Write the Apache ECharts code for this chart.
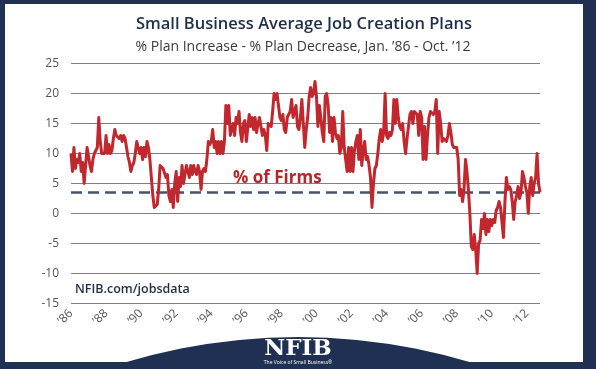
<!DOCTYPE html>
<html>
<head>
<meta charset="utf-8">
<script src="https://cdn.jsdelivr.net/npm/echarts@6/dist/echarts.min.js"></script>
<style>
  html, body { margin: 0; padding: 0; background: #1f3052; }
  #frame { position: absolute; left: 5px; top: 4px; width: 578px; height: 358px; background: #ffffff; }
  #chart { position: absolute; left: 0; top: 0; width: 596px; height: 369px; }
</style>
</head>
<body>
<div id="frame"></div>
<div id="chart"></div>
<script>
// ---- Data (monthly, Jan 1986 - Oct 2012) ----
const startYear = 1986;
const monthCount = 322;
const netPlans = [
  // 1986
  10, 7, 11, 7.5, 9, 8.5, 10, 7, 8.5, 5, 8, 11,
  // 1987
  9.5, 8, 7, 9, 10, 10.5, 11, 16, 12, 10, 10, 10,
  // 1988
  13, 10, 11.5, 10, 10.5, 12.5, 14, 13, 13, 12.5, 13, 12,
  // 1989
  13, 12.5, 11, 9.5, 8.5, 7, 8, 8.5, 10, 12, 11, 10,
  // 1990
  11, 9, 11, 9.5, 12, 11, 9, 6, 3, 1, 1, 1.5,
  // 1991
  4, 8, 8, 7.5, 7.5, 6, 6.5, 3, 2, 4, 1, 5,
  // 1992
  7, 2, 6, 4.5, 8, 5, 6.5, 8, 7, 6, 8, 6.5,
  // 1993
  8, 7, 6.5, 8, 7, 4, 7, 7.5, 7, 9, 12, 11.5,
  // 1994
  12, 14, 11, 12, 10, 12, 10, 12, 10, 12, 18, 15,
  // 1995
  18, 13, 14, 15, 13, 16, 15, 17, 13.5, 12, 15, 15.5,
  // 1996
  12, 12, 16.5, 14.5, 16, 14, 16, 13.5, 15, 16, 14.5, 13,
  // 1997
  14, 13, 10.5, 15, 15, 14.5, 17, 20, 19, 20, 18, 16,
  // 1998
  15.5, 16.5, 14, 13.5, 16, 16.5, 17, 19, 16, 17, 18, 14.5,
  // 1999
  14, 16, 19, 19, 11, 14, 16, 19.5, 21, 19.5, 20, 22,
  // 2000
  19.5, 14.5, 18, 16, 13.5, 12, 19.5, 20, 18, 13.5, 16, 12,
  // 2001
  16, 13.5, 12.5, 13, 10, 11, 17, 11, 9, 7, 11, 7,
  // 2002
  11, 7, 10.5, 12, 13, 9, 14, 8, 10.5, 12, 9, 9.5,
  // 2003
  8, 6, 1, 5, 7.5, 8, 10, 12.5, 14, 12, 13.5, 20,
  // 2004
  13, 12.5, 13.5, 13, 14, 19, 15, 19, 16, 14.5, 14, 15,
  // 2005
  12, 10, 12.5, 14.5, 16.5, 17, 15, 17, 17, 16.5, 13, 17,
  // 2006
  16, 9, 14.5, 9, 13, 16, 17, 17, 16.5, 17, 19, 10,
  // 2007
  17, 15, 12, 12.5, 12.5, 12, 13, 15, 13.5, 11.5, 11, 11,
  // 2008
  11, 9, 3, 4, 2, 4, 9, 7, 4, 0, -5.5, -6,
  // 2009
  -3.5, -6, -10, -5, -4.5, -1, -2.5, 0, -3.5, -1, -3, -1,
  // 2010
  -2, -1, -1.5, 0.5, 1, 2, 1, 1, -4, 2, 6, 4,
  // 2011
  4.5, 4, 2, -1, 2, 3, 4.5, 2.5, 3.5, 7, 6, 4.5,
  // 2012 (Jan - Oct)
  3.5, 0, 4.5, 6, 3, 5, 6, 10, 5, 3.5
];
const averageLevel = 3.6;
const yTicks = { min: -15, max: 25, step: 5 };
const titleText = 'Small Business Average Job Creation Plans';
const subtitleText = '% Plan Increase - % Plan Decrease, Jan. \u201986 - Oct. \u201912';
const averageLabel = '% of Firms';
const sourceText = 'NFIB.com/jobsdata';

// month categories built from the start year
const months = [];
for (let i = 0; i < monthCount; i++) {
  const y = startYear + Math.floor(i / 12);
  const m = (i % 12) + 1;
  months.push(y + '-' + (m < 10 ? '0' + m : m));
}

const navy = '#1f3052';
const red = '#c1272d';

const chart = echarts.init(document.getElementById('chart'), null, { renderer: 'canvas' });
chart.setOption({
  backgroundColor: 'transparent',
  animation: false,
  title: [
    {
      text: titleText,
      left: 299, top: 11, textAlign: 'center',
      textStyle: { fontFamily: 'Open Sans', fontWeight: 600, fontSize: 16.5, color: '#1f2d4a' }
    },
    {
      text: subtitleText,
      left: 298, top: 35, textAlign: 'center',
      textStyle: { fontFamily: 'Open Sans', fontWeight: 'normal', fontSize: 14, color: '#3a3a3a' }
    }
  ],
  grid: { left: 71, right: 56, top: 63.5, bottom: 65.5, containLabel: false },
  xAxis: {
    type: 'category',
    data: months,
    boundaryGap: false,
    axisLine: { show: false },
    axisTick: { show: false },
    splitLine: { show: false },
    axisLabel: {
      rotate: 45,
      margin: 8,
      color: '#555555',
      fontFamily: 'Open Sans',
      fontSize: 12,
      interval: function (idx) { return idx % 24 === 0; },
      formatter: function (v) { return '\u2019' + v.slice(2, 4); }
    }
  },
  yAxis: {
    type: 'value',
    min: yTicks.min, max: yTicks.max, interval: yTicks.step,
    axisLine: { show: false },
    axisTick: { show: false },
    splitLine: { show: true, lineStyle: { color: '#808080', width: 1 } },
    axisLabel: { color: '#555555', fontFamily: 'Open Sans', fontSize: 12, margin: 12 }
  },
  series: [{
    type: 'line',
    data: netPlans,
    showSymbol: false,
    symbol: 'none',
    lineStyle: { color: red, width: 3, join: 'round' },
    z: 3,
    markLine: {
      silent: true,
      symbol: 'none',
      label: { show: false },
      lineStyle: { color: '#44546a', width: 2.5, type: [11, 6] },
      data: [{ yAxis: averageLevel }],
      z: 2
    }
  }],
  graphic: [
    {
      type: 'text', left: 233, top: 170, z: 10,
      style: { text: averageLabel, fill: '#b5262b', font: 'bold 17px "Open Sans"' }
    },
    {
      type: 'text', left: 75, top: 283, z: 10,
      style: { text: sourceText, fill: '#1f2d4a', font: '600 12.5px "Open Sans"' }
    },
    {
      type: 'circle', z: 10,
      shape: { cx: 298, cy: 937, r: 600 },
      style: { fill: navy }
    },
    {
      type: 'rect', z: 10,
      shape: { x: 0, y: 362, width: 596, height: 7 },
      style: { fill: navy }
    },
    {
      type: 'text', z: 11, x: 298, y: 338,
      style: { text: 'NFIB', fill: '#ffffff', font: 'bold 23px "DejaVu Serif"', textAlign: 'center', textVerticalAlign: 'top' }
    },
    {
      type: 'text', z: 11, x: 298, y: 360,
      style: { text: 'The Voice of Small Business\u00ae', fill: '#ffffff', font: '5px "Open Sans"', textAlign: 'center', textVerticalAlign: 'top' }
    }
  ]
});
</script>
</body>
</html>
